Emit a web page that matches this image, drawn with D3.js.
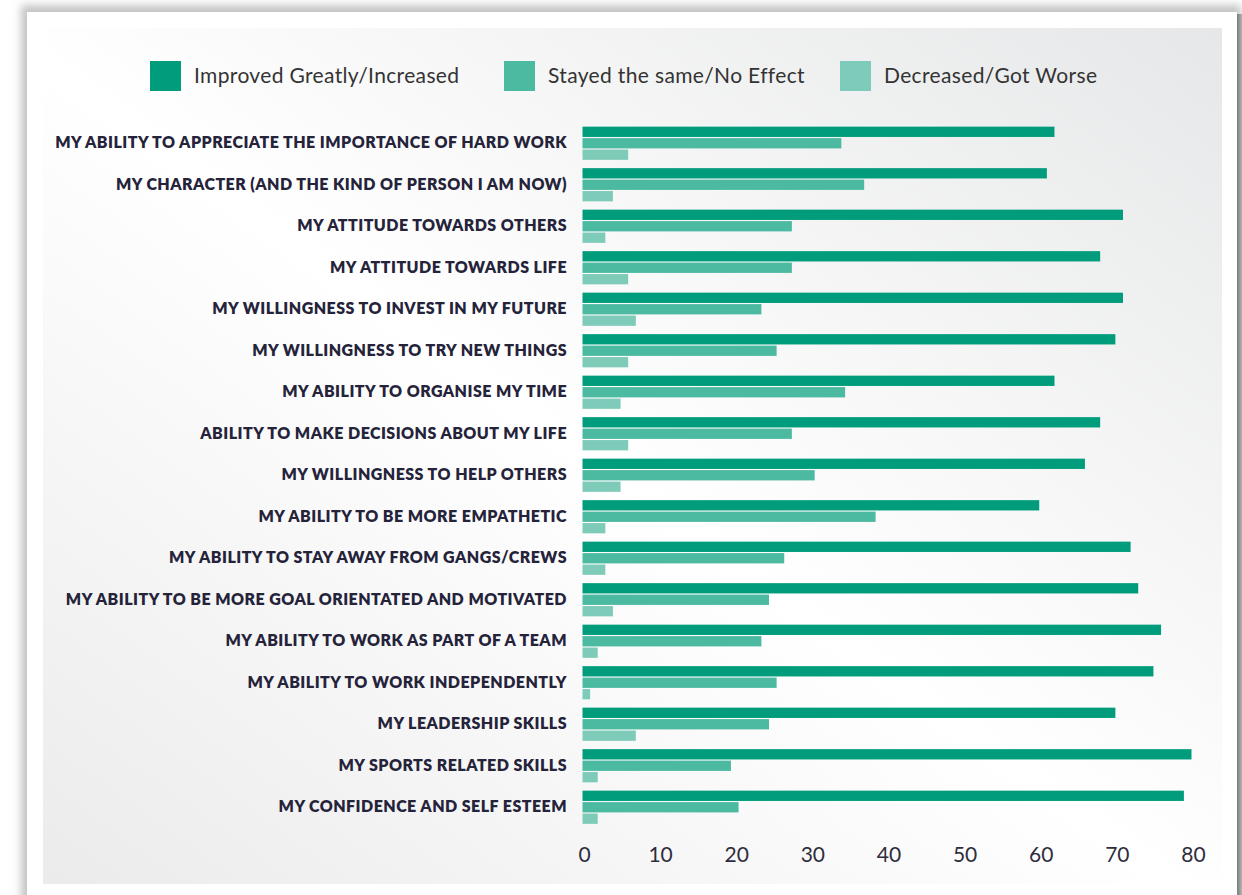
<!DOCTYPE html>
<html>
<head>
<meta charset="utf-8">
<script src="https://cdn.jsdelivr.net/npm/d3@7"></script>
<style>
  html, body { margin: 0; padding: 0; background: #ffffff; }
  svg { display: block; }
</style>
</head>
<body>
<svg id="chart" width="1242" height="895"></svg>
<script>
// Survey outcomes, percentage of respondents per answer
const categories = [
  "MY ABILITY TO APPRECIATE THE IMPORTANCE OF HARD WORK",
  "MY CHARACTER (AND THE KIND OF PERSON I AM NOW)",
  "MY ATTITUDE TOWARDS OTHERS",
  "MY ATTITUDE TOWARDS LIFE",
  "MY WILLINGNESS TO INVEST IN MY FUTURE",
  "MY WILLINGNESS TO TRY NEW THINGS",
  "MY ABILITY TO ORGANISE MY TIME",
  "ABILITY TO MAKE DECISIONS ABOUT MY LIFE",
  "MY WILLINGNESS TO HELP OTHERS",
  "MY ABILITY TO BE MORE EMPATHETIC",
  "MY ABILITY TO STAY AWAY FROM GANGS/CREWS",
  "MY ABILITY TO BE MORE GOAL ORIENTATED AND MOTIVATED",
  "MY ABILITY TO WORK AS PART OF A TEAM",
  "MY ABILITY TO WORK INDEPENDENTLY",
  "MY LEADERSHIP SKILLS",
  "MY SPORTS RELATED SKILLS",
  "MY CONFIDENCE AND SELF ESTEEM"
];
const seriesNames = ["Improved Greatly/Increased", "Stayed the same/No Effect", "Decreased/Got Worse"];
const improved  = [62, 61, 71, 68, 71, 70, 62, 68, 66, 60, 72, 73, 76, 75, 70, 80, 79];
const stayed    = [34, 37, 27.5, 27.5, 23.5, 25.5, 34.5, 27.5, 30.5, 38.5, 26.5, 24.5, 23.5, 25.5, 24.5, 19.5, 20.5];
const decreased = [6, 4, 3, 6, 7, 6, 5, 6, 5, 3, 3, 4, 2, 1, 7, 2, 2];
const tickValues = [0, 10, 20, 30, 40, 50, 60, 70, 80];
const colors = ["#009c7b", "#4cb9a1", "#7fcbb9"];

const seriesValues = [improved, stayed, decreased];
const svg = d3.select("#chart");
const defs = svg.append("defs");

// Panel background: soft diagonal sheen
const grad = defs.append("linearGradient").attr("id", "panelGrad")
  .attr("x1", 0).attr("y1", 1).attr("x2", 1).attr("y2", 0);
grad.append("stop").attr("offset", "0%").attr("stop-color", "#ebebeb");
grad.append("stop").attr("offset", "48%").attr("stop-color", "#ffffff");
grad.append("stop").attr("offset", "100%").attr("stop-color", "#e6e7e8");

const blur = defs.append("filter").attr("id", "shadowBlur")
  .attr("x", "-5%").attr("y", "-5%").attr("width", "110%").attr("height", "110%");
blur.append("feGaussianBlur").attr("stdDeviation", 4);

const rightShade = defs.append("linearGradient").attr("id", "rightShade")
  .attr("x1", 0).attr("y1", 0).attr("x2", 1).attr("y2", 0);
rightShade.append("stop").attr("offset", "0%").attr("stop-color", "#7a7a7a");
rightShade.append("stop").attr("offset", "100%").attr("stop-color", "#b5b5b5");

// Page card with its shadow
svg.append("rect").attr("x", 21).attr("y", 5).attr("width", 1220).attr("height", 900)
  .attr("fill", "#c4c4c4").attr("filter", "url(#shadowBlur)");
svg.append("rect").attr("x", 1237).attr("y", 14).attr("width", 5).attr("height", 881)
  .attr("fill", "url(#rightShade)");
svg.append("rect").attr("x", 27).attr("y", 12).attr("width", 1210).attr("height", 890)
  .attr("fill", "#ffffff");

// Chart panel
svg.append("rect").attr("x", 43).attr("y", 28).attr("width", 1179).attr("height", 856)
  .attr("fill", "url(#panelGrad)");

// Scales
const x = d3.scaleLinear().domain([0, 80]).range([582.5, 1191.5]);
const y = d3.scaleBand().domain(categories).range([122.5, 828])
  .paddingInner(0.2).paddingOuter(0.1);
const ySub = d3.scaleBand().domain(d3.range(3)).range([0, y.bandwidth()])
  .paddingInner(0.1).paddingOuter(0);

// Bars
const groups = svg.append("g").selectAll("g")
  .data(categories)
  .join("g")
  .attr("transform", d => `translate(0,${y(d)})`);

groups.selectAll("rect")
  .data((d, i) => seriesValues.map((vals, s) => ({ s, v: vals[i] })))
  .join("rect")
  .attr("x", x(0))
  .attr("y", d => ySub(d.s))
  .attr("width", d => x(d.v) - x(0))
  .attr("height", ySub.bandwidth())
  .attr("fill", d => colors[d.s]);

// Category labels
const yAxis = d3.axisLeft(y).tickSize(0).tickPadding(0);
const yg = svg.append("g").attr("transform", "translate(567,0)").call(yAxis);
yg.select(".domain").remove();
yg.selectAll("text")
  .attr("fill", "#25233a")
  .style("font-family", "Lato, 'Open Sans', sans-serif")
  .style("font-weight", 800)
  .style("font-size", "16px")
  .style("letter-spacing", "0.45px")
  .attr("dy", "0.3em");

// Value axis (labels only)
const xAxis = d3.axisBottom(x).tickValues(tickValues).tickSize(0).tickPadding(0);
const xg = svg.append("g").attr("transform", "translate(1.5,847)").call(xAxis);
xg.select(".domain").remove();
xg.selectAll("text")
  .attr("fill", "#2e2d3d")
  .attr("dy", "0.71em")
  .style("font-family", "Lato, 'Open Sans', sans-serif")
  .style("font-weight", 400)
  .style("font-size", "21px");

// Legend
const legendItems = [
  { name: seriesNames[0], color: colors[0], x: 150 },
  { name: seriesNames[1], color: colors[1], x: 504 },
  { name: seriesNames[2], color: colors[2], x: 840 }
];
const legend = svg.append("g").selectAll("g")
  .data(legendItems)
  .join("g")
  .attr("transform", d => `translate(${d.x},61)`);
legend.append("rect")
  .attr("width", 31).attr("height", 30)
  .attr("fill", d => d.color);
legend.append("text")
  .attr("x", 44).attr("y", 15).attr("dy", "0.35em")
  .attr("fill", "#333333")
  .style("font-family", "Lato, 'Open Sans', sans-serif")
  .style("font-weight", 400)
  .style("font-size", "21px")
  .style("letter-spacing", "0.35px")
  .text(d => d.name);
</script>
</body>
</html>
